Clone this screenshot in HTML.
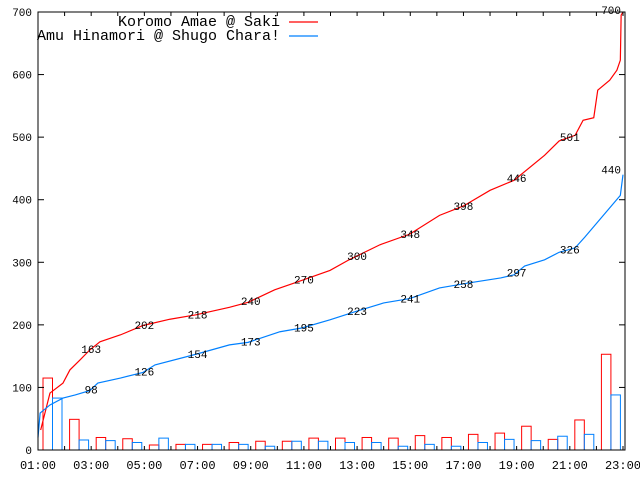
<!DOCTYPE html>
<html><head><meta charset="utf-8"><style>
body{margin:0;background:#fff}
svg{display:block}
text{font-family:"Liberation Mono",monospace;fill:#000}
</style></head><body>
<svg id="c" width="640" height="480"></svg>
<script>
const hours=["01:00","03:00","05:00","07:00","09:00","11:00","13:00","15:00","17:00","19:00","21:00","23:00"];
const yTicks=[0,100,200,300,400,500,600,700];
const redBars=[115,49,20,18,8,9,9,12,14,14,19,19,20,19,23,20,25,27,38,17,48,153];
const blueBars=[83,16,15,12,19,9,9,9,6,14,14,12,12,6,9,6,12,17,15,22,25,88];
const redT=[0.1,0.45,0.94,1.2,1.58,1.95,2.33,3.1,3.95,4.96,5.94,7.2,7.9,8.9,9.85,10.98,11.7,12.86,13.98,15.1,16,17,17.9,19.05,19.6,20.2,20.5,20.9,21.05,21.5,21.77,21.9,21.93,22];
const redV=[32,91,107,128,144,160,173,184,199,209,216,228,236,256,270,287,304,328,345,375,390,415,431,471,494,503,527,531,575,591,607,623,695,700];
const blueT=[0,0.08,0.45,0.94,1.4,1.95,2.25,3.1,3.95,4.4,5.94,7.2,7.9,9.1,9.92,10.98,12,13,13.98,15.1,16.2,17.4,17.9,18.3,19.05,19.6,20.2,20.56,21.1,21.58,21.9,22];
const blueV=[20,59,72,83,88,95,107,115,124,136,153,168,172,189,195,208,222,235,242,259,267,275,280,294,304,316,323,340,367,391,407,440];
const redLabels=[163,202,218,240,270,300,348,398,446,501];
const blueLabels=[98,126,154,173,195,223,241,258,297,326];
const redEnd=700, blueEnd=440;

const L=38,R=625,T=12,B=450;
const X=t=>L+t*(585/22);
const Y=v=>B-v*(B-T)/700;
const svg=document.getElementById('c');
const NS='http://www.w3.org/2000/svg';
function mk(tag,a){const e=document.createElementNS(NS,tag);for(const k in a)e.setAttribute(k,a[k]);svg.appendChild(e);return e;}
function txt(x,y,s,anchor,size,name){const e=mk('text',{x:x,y:y,'text-anchor':anchor,'font-size':size});e.textContent=s;

return e;}

redBars.forEach((v,i)=>{const e=mk('rect',{x:X(i)+5,y:Y(v),width:9.5,height:Y(0)-Y(v),fill:'none',stroke:'#ff0000','stroke-width':1});

});
blueBars.forEach((v,i)=>{const e=mk('rect',{x:X(i)+14.5,y:Y(v),width:9.5,height:Y(0)-Y(v),fill:'none',stroke:'#0080ff','stroke-width':1});

});

function lin(ts,vs){let d='M'+X(ts[0])+','+Y(vs[0]);for(let i=1;i<ts.length;i++){d+=' L'+X(ts[i])+','+Y(vs[i]);}return d;}
let rl=mk('path',{d:lin(redT,redV),fill:'none',stroke:'#ff0000','stroke-width':1.2});


let bl=mk('path',{d:lin(blueT,blueV),fill:'none',stroke:'#0080ff','stroke-width':1.2});



function interp(ts,vs,t){for(let i=1;i<ts.length;i++){if(t<=ts[i]){return vs[i-1]+(vs[i]-vs[i-1])*(t-ts[i-1])/(ts[i]-ts[i-1]);}}return vs[vs.length-1];}
redLabels.forEach((v,i)=>{const t=2+2*i;txt(X(t),Y(interp(redT,redV,t))+4,String(v),'middle',11,'red-value-label');});
blueLabels.forEach((v,i)=>{const t=2+2*i;txt(X(t),Y(interp(blueT,blueV,t))+4,String(v),'middle',11,'blue-value-label');});
txt(621,Y(redEnd)+2,String(redEnd),'end',11,'red-end-label');
txt(621,Y(blueEnd)-1,String(blueEnd),'end',11,'blue-end-label');

let fr=mk('rect',{x:L,y:T,width:R-L,height:B-T,fill:'none',stroke:'#000','stroke-width':1});


yTicks.forEach(v=>{mk('line',{x1:L,x2:L+6,y1:Y(v),y2:Y(v),stroke:'#000'});mk('line',{x1:R-6,x2:R,y1:Y(v),y2:Y(v),stroke:'#000'});
txt(32,Y(v)+4,String(v),'end',11,'y-tick-label');});
for(let h=0;h<=22;h++){mk('line',{x1:X(h),x2:X(h),y1:B,y2:B-4,stroke:'#000'});mk('line',{x1:X(h),x2:X(h),y1:T,y2:T+4,stroke:'#000'});}
hours.forEach((s,i)=>txt(X(2*i),469,s,'middle',12,'x-tick-label'));

txt(280,26,'Koromo Amae @ Saki','end',15,'legend-koromo');
mk('line',{x1:289,x2:318,y1:22,y2:22,stroke:'#ff0000','stroke-width':1.2});
txt(280,40,'Amu Hinamori @ Shugo Chara!','end',15,'legend-amu');
mk('line',{x1:289,x2:318,y1:36,y2:36,stroke:'#0080ff','stroke-width':1.2});
</script>
</body></html>
